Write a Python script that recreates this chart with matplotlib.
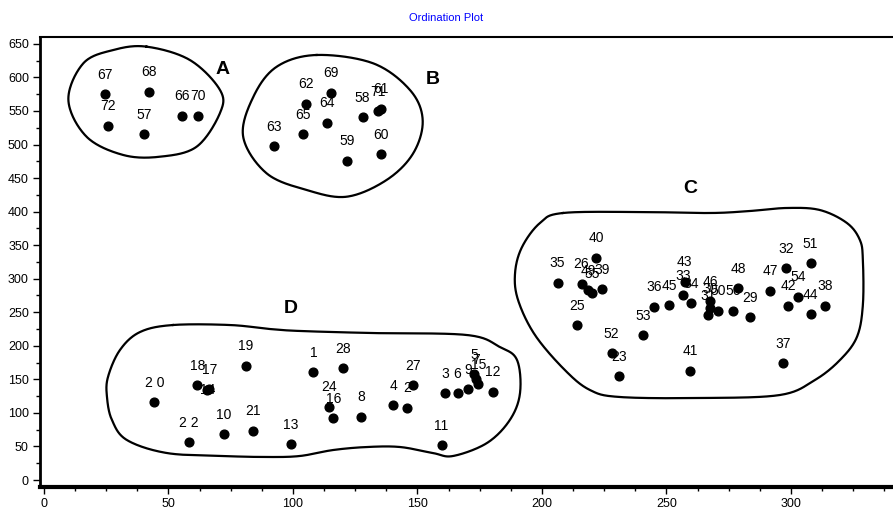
import numpy as np
import matplotlib
matplotlib.use("Agg")
import matplotlib.pyplot as plt
from matplotlib.ticker import MultipleLocator

plt.rcParams['font.family'] = ['Liberation Sans', 'DejaVu Sans']

# sample id, axis 1, axis 2
ids = ["67", "68", "72", "57", "66", "70",
       "69", "62", "64", "65", "63", "58", "61", "71", "59", "60",
       "40", "35", "26", "49", "55", "39", "25", "52", "23", "53",
       "36", "45", "43", "33", "34", "41", "46", "31", "30", "50",
       "56", "48", "29", "47", "32", "51", "42", "54", "44", "38", "37",
       "2 0", "18", "17", "14", "19", "2 2", "10", "21", "13", "1",
       "28", "24", "16", "8", "4", "2", "27", "3", "6", "9", "5", "7",
       "15", "12", "11"]
ax1 = [24.5, 42.2, 25.8, 40.3, 55.3, 61.7,
       115.2, 105.2, 113.8, 103.9, 92.5, 128.0, 135.2, 134.2, 121.8, 135.3,
       221.9, 206.3, 215.9, 218.6, 220.0, 224.0, 214.2, 228.0, 231.0, 240.6,
       245.0, 251.1, 257.4, 256.7, 259.8, 259.4, 267.5, 266.8, 267.5, 270.8,
       276.8, 278.8, 283.5, 291.6, 298.0, 307.9, 298.9, 302.9, 307.9, 313.7, 296.7,
       44.3, 61.6, 66.4, 65.6, 81.0, 58.2, 72.3, 84.1, 99.2, 108.2,
       120.0, 114.6, 116.2, 127.3, 140.3, 145.9, 148.3, 161.0, 166.1, 170.4, 172.7, 173.4,
       174.4, 180.2, 159.7]
ax2 = [574.8, 578.7, 528.0, 515.0, 542.6, 542.6,
       577.0, 561.0, 532.5, 515.6, 497.8, 540.5, 553.5, 550.0, 475.9, 485.4,
       331.0, 294.0, 292.8, 283.2, 278.0, 284.6, 231.0, 188.8, 155.0, 216.0,
       258.3, 260.3, 295.5, 275.7, 263.8, 163.0, 266.8, 245.9, 256.3, 252.3,
       252.3, 285.7, 242.5, 282.1, 315.5, 323.0, 259.8, 273.2, 247.4, 259.8, 174.0,
       115.8, 141.6, 135.2, 134.0, 170.4, 56.2, 68.6, 73.5, 53.7, 160.5,
       166.5, 109.2, 91.9, 94.3, 111.8, 107.8, 141.6, 129.2, 129.2, 135.6, 157.5, 150.0,
       143.0, 131.6, 52.2]

# group names and where they are written
groups = ["A", "B", "C", "D"]
group_x = [71.9, 156.2, 259.4, 99.2]
group_y = [612.5, 597.6, 435.0, 256.3]

# hand drawn group outlines
outline_A = [(41.2, 645.8), (58.6, 625.9), (70.7, 581.2), (70.7, 547.0), (61.3, 496.7),
             (46.6, 481.8), (31.8, 484.4), (17.1, 511.6), (9.8, 566.3), (15.8, 621.0),
             (27.8, 640.8)]
outline_B = [(109.5, 633.4), (132.2, 621.0), (147.0, 581.2), (152.1, 536.5), (148.3, 486.9),
             (137.6, 447.1), (121.6, 422.2), (105.5, 432.2), (89.4, 457.1), (80.0, 511.6),
             (84.1, 571.2), (93.5, 616.0)]
outline_C = [(208.4, 397.9), (239.4, 399.4), (267.5, 397.9), (283.5, 400.9), (298.4, 405.4),
             (311.6, 402.4), (322.5, 383.0), (327.7, 357.7), (328.9, 327.9), (328.9, 260.8),
             (326.5, 213.1), (319.7, 178.8), (309.6, 149.0), (295.6, 126.7), (263.5, 122.2),
             (231.3, 123.7), (219.3, 134.1), (209.2, 163.9), (197.2, 216.1), (190.4, 268.3),
             (189.2, 308.5), (192.0, 347.2), (199.2, 383.0)]
outline_D = [(51.8, 231.0), (74.7, 231.0), (90.8, 225.0), (102.8, 222.1), (130.9, 219.1),
             (169.9, 216.1), (183.1, 198.2), (190.0, 178.8), (191.2, 129.7), (187.1, 89.4),
             (177.9, 55.1), (164.3, 35.8), (156.2, 40.2), (143.0, 49.2), (129.7, 49.2),
             (116.1, 44.7), (102.8, 35.8), (89.6, 34.3), (71.9, 35.8), (49.4, 40.2),
             (33.3, 59.6), (27.3, 89.4), (25.3, 123.7), (25.7, 153.5), (30.5, 193.7),
             (38.6, 220.6)]


def closed_curve(pts, n=30):
    # catmull-rom through the outline points, closed
    p = np.array(pts)
    k = len(p)
    out = []
    t = np.linspace(0, 1, n, endpoint=False)[:, None]
    for i in range(k):
        p0, p1, p2, p3 = p[i - 1], p[i], p[(i + 1) % k], p[(i + 2) % k]
        seg = 0.5 * ((2 * p1) + (-p0 + p2) * t + (2 * p0 - 5 * p1 + 4 * p2 - p3) * t ** 2
                     + (-p0 + 3 * p1 - 3 * p2 + p3) * t ** 3)
        out.append(seg)
    out.append(p[:1])
    return np.vstack(out)


fig = plt.figure(figsize=(8.93, 5.12), dpi=100)
ax = fig.add_axes([40 / 893, 25 / 512, 853 / 893, 450 / 512])

for outline in [outline_A, outline_B, outline_C, outline_D]:
    c = closed_curve(outline)
    ax.plot(c[:, 0], c[:, 1], color="black", lw=1.6, zorder=2)

ax.plot(ax1, ax2, "o", color="black", ms=6.3, zorder=4)

for name, x, y in zip(ids, ax1, ax2):
    off = (0, 0) if name == "14" else (0, 14)
    ax.annotate(name, (x, y), xytext=off, textcoords="offset points",
                ha="center", va="center", fontsize=10, zorder=3)

for g, x, y in zip(groups, group_x, group_y):
    ax.text(x, y, g, fontsize=14, fontweight="bold", ha="center", va="center")

ax.set_xlim(-1.6, 341)
ax.set_ylim(-10.4, 660.2)
ax.xaxis.set_major_locator(MultipleLocator(50))
ax.xaxis.set_minor_locator(MultipleLocator(12.5))
ax.yaxis.set_major_locator(MultipleLocator(50))
ax.yaxis.set_minor_locator(MultipleLocator(25))
ax.tick_params(which="major", length=5, width=1, labelsize=9, pad=3)
ax.tick_params(which="minor", length=3, width=1)
ax.spines["left"].set_linewidth(2)
ax.spines["bottom"].set_linewidth(3)
ax.spines["top"].set_linewidth(1.5)
ax.spines["right"].set_visible(False)

fig.text(0.5, 1 - 18 / 512, "Ordination Plot", color="blue", fontsize=8,
         ha="center", va="center")

fig.savefig("out.png", dpi=100)
